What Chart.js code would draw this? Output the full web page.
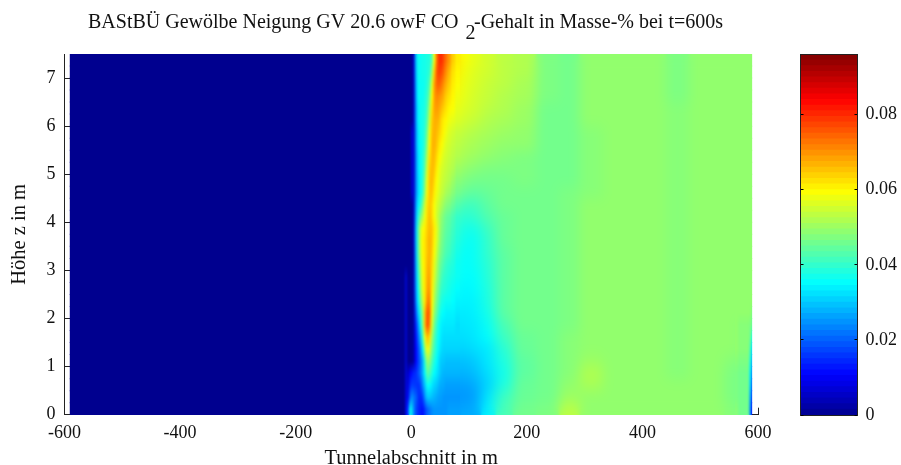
<!DOCTYPE html>
<html lang="de"><head><meta charset="utf-8">
<script src="https://cdn.jsdelivr.net/npm/chart.js@4"></script>
<style>html,body{margin:0;padding:0;background:#fff;width:901px;height:465px;overflow:hidden}
canvas{position:absolute;display:block}</style></head><body>
<canvas id="map" width="901" height="465" style="left:0;top:0"></canvas>
<canvas id="bar" width="121" height="465" style="left:780px;top:0"></canvas>
<script>
const titleParts = ['BAStBÜ Gewölbe Neigung GV 20.6 owF CO', '2', '-Gehalt in Masse-% bei t=600s'];
const xAxisTitle = 'Tunnelabschnitt in m';
const yAxisTitle = 'Höhe z in m';
const xTickStep = 200;
const yTickStep = 1;
const colorTickStep = 0.02;
const colorMax = 0.096;
const colorLevels = 64;
// tunnel section column edges in m
const xEdges = [-590,-11,-9,-5,0,1.5,5,9,13,17,21,25,29,33,37,41,45,49,53,57,62,68,75,85,100,120,145,175,215,255,290,330,440,480,540,565,584,587,589];
// height of each row centre in m
const zRows = [7.375,7.125,6.875,6.625,6.375,6.125,5.875,5.625,5.375,5.125,4.875,4.625,4.375,4.125,3.875,3.625,3.375,3.125,2.875,2.625,2.375,2.125,1.875,1.625,1.375,1.125,0.875,0.625,0.375,0.125];
// CO2 content in 1/1000 mass-%, one line per row of zRows, one entry per column of xEdges
const co2 = [
[0,0,0,0,0,5,28,36,36,37,37,38,38,44,58,72,79,80,77,73,69,64,61,59,57,55,53,52,47,46,49,49,47,49,49,49,49,49],
[0,0,0,0,0,5,27,36,36,37,37,38,40,50,64,75,78,77,74,70,66,62,60,58,56,55,53,52,47,46,49,49,47,49,49,49,49,49],
[0,0,0,0,0,4,26,35,36,36,37,39,44,56,68,74,75,73,70,67,64,61,59,57,56,54,53,51,47,46,49,49,47,49,49,49,49,49],
[0,0,0,0,0,4,25,35,36,36,38,40,48,60,68,71,70,69,67,64,62,60,58,57,55,54,52,51,47,46,49,49,47,49,49,49,49,49],
[0,0,0,0,0,4,24,34,36,37,38,42,52,62,68,69,68,66,64,62,60,59,57,56,55,53,52,50,46,46,49,49,48,49,49,49,49,49],
[0,0,0,0,0,4,24,34,36,37,39,44,55,64,67,67,66,63,61,60,58,57,56,55,54,52,51,50,46,46,49,49,48,49,49,49,49,49],
[0,0,0,0,10,4,23,33,36,37,40,47,58,65,67,66,64,62,60,58,56,55,54,53,52,51,50,49,46,46,48,49,48,49,49,49,49,49],
[0,0,0,0,10,4,23,33,35,37,41,50,60,66,67,65,62,60,58,56,55,54,53,52,51,50,49,49,46,46,48,49,48,49,49,49,49,49],
[0,0,0,0,10,4,22,32,35,38,43,53,62,66,66,63,60,58,56,55,54,53,52,51,50,49,48,47,46,46,48,49,48,49,49,49,49,49],
[0,0,0,0,10,4,22,32,35,38,45,56,64,66,65,61,58,56,55,54,53,52,50,49,48,47,47,47,46,46,48,49,48,49,49,49,49,49],
[0,0,0,0,10,4,22,31,35,39,48,58,65,66,63,59,57,55,54,53,52,50,48,47,46,46,46,47,46,46,48,49,48,49,49,49,49,49],
[0,0,0,0,10,4,22,31,35,40,50,60,65,65,61,58,56,54,53,51,50,48,46,45,44,45,46,46,46,47,48,49,48,49,49,49,49,49],
[0,0,0,0,0,4,24,34,38,46,55,62,65,63,59,56,54,52,50,48,47,45,43,41,41,44,46,46,46,47,49,49,48,49,49,49,49,49],
[0,0,0,0,0,4,26,38,46,52,58,63,66,63,59,55,52,49,47,45,44,42,40,39,40,43,45,46,46,47,49,49,48,49,49,49,49,49],
[0,0,0,0,0,4,28,42,54,59,61,64,66,65,61,57,52,48,46,44,43,41,39,37,37,41,45,46,46,47,49,49,48,49,49,49,49,49],
[0,0,0,0,0,4,28,42,55,60,62,65,67,65,60,56,51,47,45,43,42,40,38,36,36,40,45,46,46,47,49,49,48,49,49,49,49,49],
[0,0,0,0,0,3,27,42,54,60,62,65,67,64,59,54,49,46,44,42,41,39,37,35,36,40,44,46,46,47,49,49,48,49,49,49,49,49],
[0,0,0,0,0,3,26,40,52,59,62,66,67,63,57,52,47,44,42,40,39,38,36,35,36,39,44,46,46,47,49,49,48,49,49,49,49,49],
[0,12,0,0,0,3,25,38,50,58,62,67,68,62,56,50,46,42,40,39,38,37,36,35,35,39,44,46,46,47,49,49,48,49,49,49,49,49],
[0,12,0,0,0,3,24,36,48,57,62,68,69,61,54,48,44,40,39,38,37,36,35,34,35,38,44,46,46,47,49,49,48,49,49,49,49,49],
[0,12,0,0,0,2,22,34,44,54,62,71,71,60,52,46,42,38,37,36,36,35,34,34,34,38,44,46,46,47,49,49,48,49,49,49,49,49],
[0,12,0,0,0,2,18,30,38,50,66,76,73,58,49,44,39,36,35,34,34,34,33,33,34,37,44,46,46,47,49,49,48,49,49,49,49,47],
[0,12,0,0,0,2,14,24,34,48,66,77,70,55,46,40,36,34,33,33,33,33,32,33,33,36,42,46,46,47,49,49,48,49,49,48,47,45],
[0,12,0,0,0,2,12,20,29,42,58,66,62,50,43,38,35,33,32,32,32,32,32,32,33,35,41,45,46,48,49,49,48,49,49,48,46,38],
[0,12,0,0,0,2,11,17,24,34,50,58,55,46,41,37,34,32,31,31,31,31,31,31,32,33,39,45,46,48,49,49,48,49,49,48,42,32],
[0,12,0,0,0,2,11,16,21,28,40,50,48,42,38,35,32,30,30,29,29,29,29,29,30,33,38,44,46,48,50,49,48,49,48,47,38,28],
[0,12,4,10,12,14,15,18,22,28,36,44,42,38,35,33,31,29,28,28,28,28,28,28,29,32,37,44,46,48,52,49,48,49,47,46,34,24],
[0,12,6,14,18,16,16,15,17,24,30,36,35,33,31,30,28,27,27,26,26,26,26,26,27,31,38,45,46,49,51,49,49,49,47,46,32,20],
[0,12,8,20,26,22,20,16,14,17,25,30,30,29,28,27,26,26,25,25,25,25,25,25,26,33,41,45,46,50,49,49,49,49,47,46,28,16],
[0,12,14,34,34,24,18,15,13,12,16,20,22,24,25,25,25,25,25,25,26,26,26,27,27,34,42,46,47,53,49,49,49,49,48,46,25,12]
];

const serif = '"Liberation Serif", serif';
const ink = '#222';
function clamp01(v){return Math.max(0,Math.min(1,v));}
function jet(v){
  const t = clamp01(v/colorMax)*(colorLevels-1)/colorLevels + 1/colorLevels;
  const r = clamp01(Math.min(4*t-1.5,-4*t+4.5));
  const g = clamp01(Math.min(4*t-0.5,-4*t+3.5));
  const b = clamp01(Math.min(4*t+0.5,-4*t+2.5));
  return `rgb(${Math.round(r*255)},${Math.round(g*255)},${Math.round(b*255)})`;
}
const columnSets = xEdges.slice(0,-1).map((x0,c)=>({
  data: zRows.map(z=>({y:z, x:[x0,xEdges[c+1]]})),
  backgroundColor: co2.map(row=>jet(row[c]/1000)),
  barPercentage:1, categoryPercentage:1, grouped:false, borderWidth:0, inflateAmount:0.5
}));

const titlePlugin = {
  id:'splitTitle',
  afterDraw(chart){
    const c = chart.ctx; c.save();
    c.fillStyle = '#111'; c.textBaseline='alphabetic'; c.textAlign='left';
    c.font = '20px '+serif;
    c.fillText(titleParts[0],88,28);
    c.fillText(titleParts[1],465.5,39);
    c.fillText(titleParts[2],474,28);
    c.restore();
  }
};

// interpolated shading of the drawn cells: rows are blended vertically, columns softened horizontally
const shadingPlugin = {
  id:'interpShading',
  afterDatasetsDraw(chart){
    const {ctx,canvas} = chart, {x,y} = chart.scales;
    const left = Math.round(x.getPixelForValue(xEdges[0])), right = Math.round(x.getPixelForValue(xEdges[xEdges.length-1]));
    const top = Math.round(y.getPixelForValue(7.5)), bottom = Math.round(y.getPixelForValue(0));
    const w = right-left, h = bottom-top;
    const off = document.createElement('canvas'); off.width = w; off.height = zRows.length;
    const o = off.getContext('2d');
    zRows.forEach((z,r)=>o.drawImage(canvas,left,Math.round(y.getPixelForValue(z)),w,1,0,r,w,1));
    ctx.save();
    ctx.beginPath(); ctx.rect(left,top,w,h); ctx.clip();
    ctx.imageSmoothingEnabled = true;
    ctx.drawImage(off,0,0,w,zRows.length,left,top,w,h);
    const soft = document.createElement('canvas'); soft.width = w; soft.height = h;
    soft.getContext('2d').drawImage(canvas,left,top,w,h,0,0,w,h);
    ctx.filter = 'blur(1px)';
    ctx.drawImage(soft,left,top);
    ctx.restore();
    const a = Math.round(x.getPixelForValue(85)), b = Math.round(x.getPixelForValue(560));
    const soft2 = document.createElement('canvas'); soft2.width = w; soft2.height = h;
    soft2.getContext('2d').drawImage(canvas,left,top,w,h,0,0,w,h);
    ctx.save();
    ctx.beginPath(); ctx.rect(a,top,b-a,h); ctx.clip();
    ctx.filter = 'blur(6px)';
    ctx.drawImage(soft2,left,top);
    ctx.restore();
  }
};

new Chart(document.getElementById('map'),{
  type:'bar',
  data:{datasets:columnSets},
  plugins:[shadingPlugin,titlePlugin],
  options:{
    indexAxis:'y', responsive:false, animation:false,
    layout:{padding:{left:0,top:54,right:143,bottom:0}},
    plugins:{legend:{display:false},tooltip:{enabled:false},title:{display:false}},
    scales:{
      x:{type:'linear',position:'bottom',min:-600,max:600,
        afterFit(s){s.height=50.3;},
        grid:{drawOnChartArea:false,tickLength:-7,color:ink,offset:false},
        border:{color:ink},
        ticks:{stepSize:xTickStep,maxRotation:0,padding:15,color:'#111',font:{family:serif,size:18},includeBounds:false},
        title:{display:true,text:xAxisTitle,color:'#111',font:{family:serif,size:20.5},padding:{top:-6,bottom:-6}}},
      y:{type:'linear',position:'left',min:0,max:7.5,offset:false,
        afterFit(s){s.width=64.5;},
        grid:{drawOnChartArea:false,tickLength:-7,color:ink,offset:false},
        border:{color:ink},
        ticks:{stepSize:yTickStep,padding:16,color:'#111',font:{family:serif,size:18},includeBounds:false},
        title:{display:true,text:yAxisTitle,color:'#111',font:{family:serif,size:20.5},padding:{top:7,bottom:7}}}
    }
  }
});

const levelSets = Array.from({length:colorLevels},(_,i)=>({
  data:[[i*colorMax/colorLevels,(i+1)*colorMax/colorLevels]],
  backgroundColor:jet((i+0.5)*colorMax/colorLevels),
  barPercentage:1,categoryPercentage:1,grouped:false,borderWidth:0,inflateAmount:0.5,yAxisID:'y'
}));
const frame = {drawTicks:false,drawOnChartArea:false};
new Chart(document.getElementById('bar'),{
  type:'bar',
  data:{labels:['CO2'],datasets:levelSets},
  options:{
    responsive:false,animation:false,
    layout:{padding:0},
    plugins:{legend:{display:false},tooltip:{enabled:false}},
    scales:{
      x:{type:'category',position:'bottom',offset:true,afterFit(s){s.height=50;},grid:frame,border:{color:ink,z:2},ticks:{display:false}},
      xTop:{type:'category',position:'top',labels:['CO2'],offset:true,afterFit(s){s.height=54.5;},grid:frame,border:{color:ink,z:2},ticks:{display:false}},
      yLeft:{type:'linear',position:'left',min:0,max:colorMax,afterFit(s){s.width=20.5;},
        grid:{drawOnChartArea:false,tickLength:-3,color:'#000',z:2},border:{color:ink,z:2},
        ticks:{stepSize:colorTickStep,display:false,includeBounds:false}},
      y:{type:'linear',position:'right',min:0,max:colorMax,afterFit(s){s.width=43.5;},
        grid:{drawOnChartArea:false,tickLength:-3,color:'#000',z:2},border:{color:ink,z:2},
        ticks:{stepSize:colorTickStep,padding:11,color:'#111',font:{family:serif,size:18},includeBounds:false,
          callback:v=>v===0?'0':v.toFixed(2)}}
    }
  }
});
</script></body></html>
